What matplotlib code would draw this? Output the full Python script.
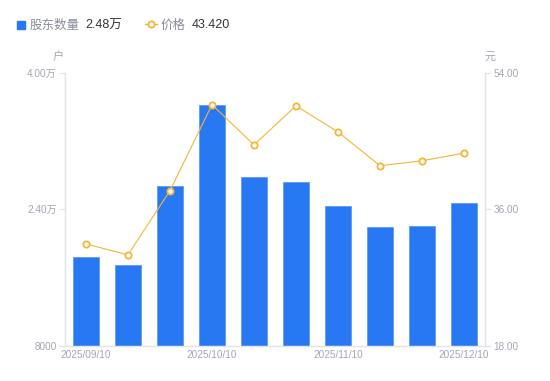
import matplotlib
matplotlib.use('Agg')
import matplotlib.pyplot as plt
import numpy as np
from matplotlib.lines import Line2D

plt.rcParams['font.family'] = ['Liberation Sans', 'Noto Sans CJK SC', 'DejaVu Sans']

# data
dates = ['2025/09/10', '2025/09/20', '2025/09/30', '2025/10/10', '2025/10/20',
         '2025/10/31', '2025/11/10', '2025/11/20', '2025/11/30', '2025/12/10']
holders = [18430, 17490, 26750, 36250, 27800, 27220, 24400, 21950, 22060, 24800]
price = [31.45, 30.0, 38.45, 49.8, 44.5, 49.65, 46.2, 41.75, 42.4, 43.42]
left_ticks = [8000, 24000, 40000]
left_labels = ['8000', '2.40万', '4.00万']
right_ticks = [18, 36, 54]
right_labels = ['18.00', '36.00', '54.00']
xlabel_idx = [0, 3, 6, 9]

blue = '#2778f2'
orange = '#f7b538'
gray = '#a3a6b4'
axis_c = '#e3e5ea'
cjk = ['Noto Sans CJK SC', 'DejaVu Sans']

fig = plt.figure(figsize=(5.5, 3.81), dpi=100)
ax = fig.add_axes([0.118, 0.092, 0.764, 0.717])
x = np.arange(len(dates))
ax.bar(x, holders, width=0.6, color=blue, edgecolor='#5b9bf6', linewidth=0.6, zorder=2)
ax.set_xlim(-0.5, len(dates) - 0.5)
ax.set_ylim(8000, 40000)
ax.set_yticks(left_ticks)
ax.set_yticklabels(left_labels)
ax.set_xticks([x[i] for i in xlabel_idx])
ax.set_xticklabels([dates[i] for i in xlabel_idx])

ax2 = ax.twinx()
ax2.plot(x, price, color=orange, linewidth=0.8, marker='o', markersize=4.5,
         markerfacecolor='white', markeredgecolor=orange, markeredgewidth=1.3, zorder=3)
ax2.set_ylim(18, 54)
ax2.set_yticks(right_ticks)
ax2.set_yticklabels(right_labels)

for a in (ax, ax2):
    a.spines['top'].set_visible(False)
    for s in ('left', 'right', 'bottom'):
        a.spines[s].set_color(axis_c)
        a.spines[s].set_linewidth(0.9)
    a.tick_params(axis='y', colors=axis_c, labelcolor=gray, labelsize=7.2, length=4, width=0.9, pad=2)
ax.tick_params(axis='x', length=0, labelcolor=gray, labelsize=7.2, pad=3)

fig.text(58 / 550, 1 - 57 / 381, '户', color=gray, fontsize=8, ha='center', va='center', family=cjk)
fig.text(490 / 550, 1 - 57 / 381, '元', color=gray, fontsize=8, ha='center', va='center', family=cjk)

# legend row, all texts on one baseline
base = 1 - 28.5 / 381
fig.patches.append(plt.Rectangle((17 / 550, 1 - 28.5 / 381), 8 / 550, 8 / 381,
                                 transform=fig.transFigure, color=blue, figure=fig))
fig.text(30 / 550, base, '股东数量', color='#8a8d99', fontsize=9, va='baseline', family=cjk)
fig.text(85 / 550, base, '2.48万', color='#333333', fontsize=9, va='baseline')
fig.lines.append(Line2D([145 / 550, 157 / 550], [1 - 24 / 381, 1 - 24 / 381],
                        transform=fig.transFigure, color=orange, linewidth=1, figure=fig))
fig.lines.append(Line2D([151 / 550], [1 - 24 / 381], transform=fig.transFigure,
                        marker='o', markersize=4.5, markerfacecolor='white',
                        markeredgecolor=orange, markeredgewidth=1.3, figure=fig))
fig.text(161 / 550, base, '价格', color='#8a8d99', fontsize=9, va='baseline', family=cjk)
fig.text(192 / 550, base, '43.420', color='#333333', fontsize=9, va='baseline')

fig.savefig('out.png', dpi=100)
